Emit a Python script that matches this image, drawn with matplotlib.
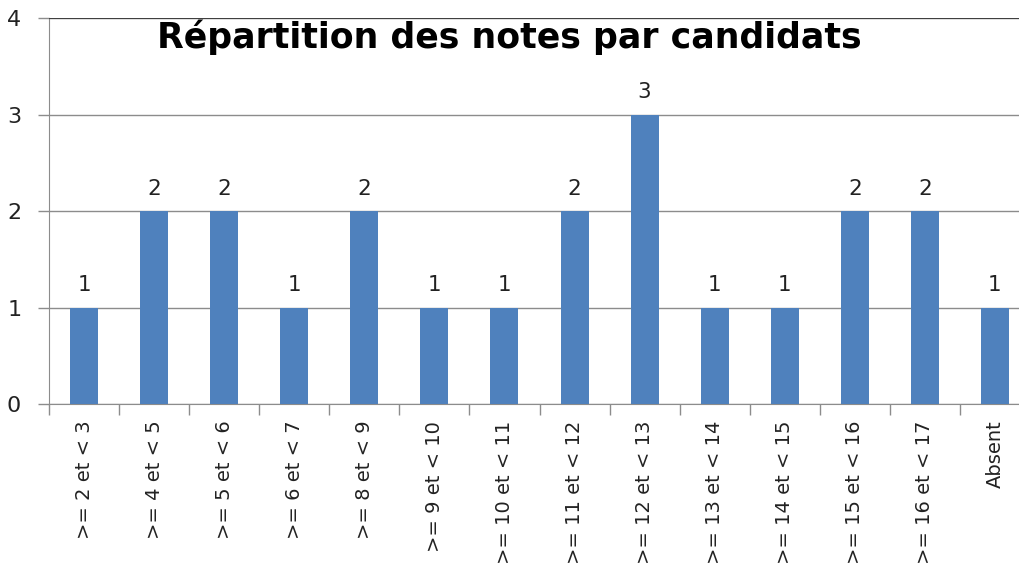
import numpy as np
import matplotlib.pyplot as plt

plt.rcParams['font.family'] = ['DejaVu Sans']

categories = ['>= 2 et < 3', '>= 4 et < 5', '>= 5 et < 6', '>= 6 et < 7', '>= 8 et < 9',
              '>= 9 et < 10', '>= 10 et < 11', '>= 11 et < 12', '>= 12 et < 13',
              '>= 13 et < 14', '>= 14 et < 15', '>= 15 et < 16', '>= 16 et < 17', 'Absent']
counts = [1, 2, 2, 1, 2, 1, 1, 2, 3, 1, 1, 2, 2, 1]

fig = plt.figure(figsize=(10.19, 5.67), dpi=100)
# the original is cut off on the right, so the axes run past the figure edge
ax = fig.add_axes([49 / 1019, 163 / 567, 981 / 1019, 386 / 567])

x = np.arange(len(categories))
bars = ax.bar(x, counts, width=0.4, color='#4F81BD', zorder=3)
ax.bar_label(bars, padding=9, fontsize=15.5, color='#222222')

ax.set_xlim(-0.5, len(categories) - 0.5)
ax.set_ylim(0, 4)
ax.set_yticks([0, 1, 2, 3, 4])
ax.yaxis.grid(True, color='#8C8C8C', linewidth=1, zorder=0)
ax.set_xticks(np.arange(len(categories) + 1) - 0.5, minor=False)
ax.set_xticklabels([])
ax.set_xticks(x, minor=True)
ax.set_xticklabels(categories, minor=True, rotation=90, fontsize=14, color='#222222')
ax.tick_params(axis='x', which='minor', length=0, pad=12)
ax.tick_params(axis='x', which='major', length=8, color='#8C8C8C', width=1)
ax.tick_params(axis='y', length=8, color='#8C8C8C', width=1, labelsize=16,
               labelcolor='#222222', pad=12)

for side in ['top', 'right']:
    ax.spines[side].set_visible(False)
ax.spines['left'].set_color('#8C8C8C')
ax.spines['bottom'].set_color('#8C8C8C')
ax.axhline(4, color='#404040', linewidth=1.5, zorder=4)

fig.text(0.5, 1 - 48 / 567, 'Répartition des notes par candidats', ha='center',
         va='baseline', fontsize=25, fontweight='bold')

fig.savefig('out.png', dpi=100)
